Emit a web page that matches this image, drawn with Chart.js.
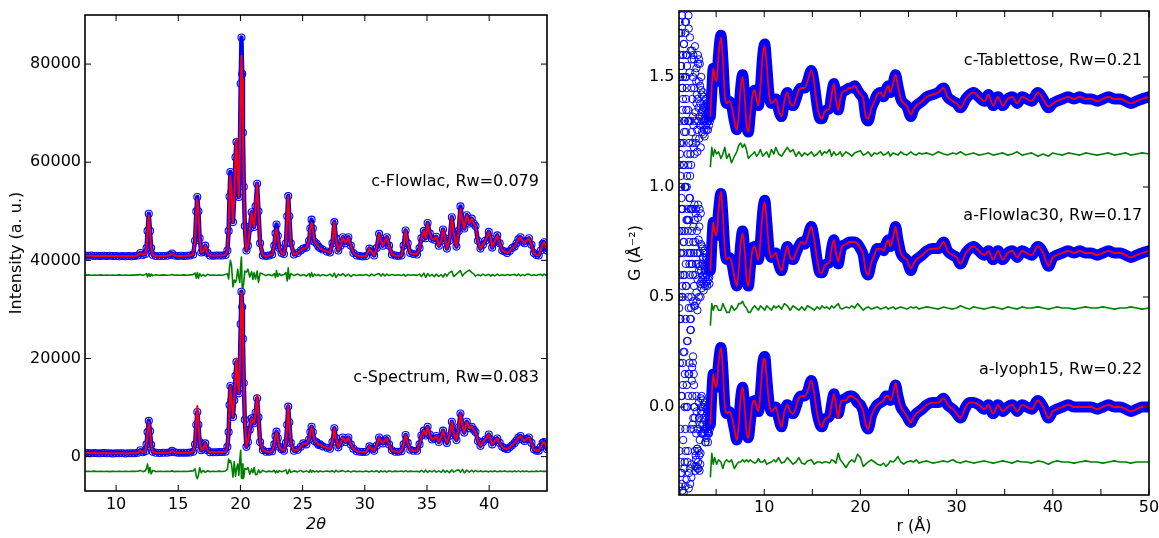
<!DOCTYPE html>
<html><head><meta charset="utf-8">
<script src="https://cdn.jsdelivr.net/npm/chart.js@4.4.0/dist/chart.umd.min.js"></script>
<style>
html,body{margin:0;padding:0;background:#fff;}
#wrap{position:relative;width:1159px;height:538px;overflow:hidden;background:#fff;}
canvas{position:absolute;top:0;}
#c1{left:0;} #c2{left:580px;}
</style></head><body>
<div id="wrap"><canvas id="c1" width="580" height="538"></canvas><canvas id="c2" width="579" height="538"></canvas></div>
<script>
// ---------------- Left panel: XRD (2theta) ----------------
const tth = [
7.5,7.75,8.0,8.25,8.5,8.75,9.0,9.25,9.5,9.75,
10.0,10.25,10.5,10.75,11.0,11.25,11.5,11.75,11.95,12.15,
12.35,12.45,12.53,12.63,12.73,12.82,12.95,13.2,13.5,13.8,
14.1,14.35,14.5,14.7,14.95,15.2,15.45,15.7,15.95,16.2,
16.35,16.45,16.53,16.62,16.72,16.85,17.0,17.17,17.35,17.55,
17.8,18.05,18.3,18.55,18.8,18.95,19.05,19.12,19.19,19.28,
19.4,19.5,19.6,19.68,19.78,19.87,19.95,20.02,20.08,20.14,
20.2,20.27,20.35,20.48,20.6,20.75,20.9,21.0,21.1,21.22,
21.34,21.45,21.58,21.8,22.05,22.3,22.55,22.72,22.82,22.9,
23.0,23.12,23.3,23.5,23.66,23.76,23.84,23.93,24.05,24.3,
24.6,24.85,25.05,25.3,25.52,25.62,25.72,25.82,25.95,26.13,
26.27,26.4,26.6,26.94,27.2,27.4,27.55,27.68,27.87,28.05,
28.23,28.45,28.68,28.88,29.08,29.35,29.6,29.85,30.1,30.37,
30.55,30.75,30.95,31.15,31.3,31.45,31.62,31.77,31.95,32.18,
32.45,32.7,32.95,33.12,33.28,33.45,33.65,33.9,34.2,34.4,
34.55,34.75,34.9,35.05,35.22,35.4,35.6,35.75,35.95,36.15,
36.29,36.45,36.6,36.8,37.0,37.15,37.37,37.55,37.69,37.85,
38.0,38.2,38.4,38.6,38.75,38.9,39.1,39.3,39.5,39.7,
39.97,40.12,40.24,40.45,40.65,40.85,41.05,41.25,41.45,41.65,
41.85,42.05,42.2,42.35,42.52,42.7,42.85,43.0,43.2,43.4,
43.6,43.8,43.98,44.15,44.3,44.42,44.55,44.65];

const flowlacObs = [
1000,950,1000,900,950,900,950,900,950,900,
900,850,900,850,900,850,900,1000,1500,1100,
1300,2500,6000,9500,6000,2500,1100,900,900,900,
950,1100,1400,1000,900,950,900,950,1000,1200,
4000,10000,12900,10000,4500,1600,1800,3000,1500,1000,
950,1000,1000,1000,1100,2000,6000,13000,18000,14000,
7800,13000,21000,24100,18000,12900,22000,36000,45400,38000,
26000,15000,7000,2000,3000,6500,9800,8000,6800,11000,
15600,10000,3500,1000,900,1000,1200,3000,5500,7300,
5000,2500,1500,1300,3500,9000,13100,9000,3500,1200,
1500,2000,2400,2600,4000,6500,8300,6500,3800,3400,
2800,2500,2200,1800,1600,3500,7800,4500,2000,3000,
4700,3500,4700,3000,1500,1000,900,800,900,2400,
1800,1000,2500,5400,4000,3000,4000,4700,3000,1200,
1000,900,1000,3000,6100,3500,1500,1300,1200,2500,
4500,6000,4500,7600,5500,4400,4200,4800,3000,4000,
6300,4500,2400,4000,8800,5500,2800,6000,11000,8000,
6500,9200,7500,8500,7500,7000,4000,2400,3200,4000,
5800,4500,2600,3800,5100,3500,2000,1800,1500,1900,
2500,2800,3500,4300,4700,3800,3500,4000,4500,3200,
1500,1100,1000,2000,3300,3700,2800,2000];

const flowlacCalc = [
1000,950,1000,900,950,900,950,900,950,900,
900,850,900,850,900,850,900,1000,1500,1100,
1300,2500,6000,9200,6000,2500,1100,900,900,900,
950,1100,1400,1000,900,950,900,950,1000,1200,
4000,10000,12500,10000,4500,1600,1800,3000,1500,1000,
950,1000,1000,1000,1100,2000,6000,13000,17300,14000,
7800,13000,21000,24800,18000,12900,22000,35000,41700,37000,
26000,15000,7000,2000,3000,6500,9800,8000,6800,11000,
15600,10000,3500,1000,900,1000,1200,3000,5500,6400,
5000,2500,1500,1300,3500,9000,13100,9000,3500,1200,
1500,2000,2400,2600,4000,6500,7600,6500,3800,3400,
2800,2500,2200,1800,1600,3500,7800,4500,2000,3000,
4700,3500,4700,3000,1500,1000,900,800,900,2400,
1800,1000,2500,5400,4000,3000,4000,4700,3000,1200,
1000,900,1000,3000,6100,3500,1500,1300,1200,2500,
4500,6000,4500,7600,5500,4400,4200,4800,3000,4000,
6300,4500,2400,4000,8800,5500,2800,6000,10500,8000,
6500,9200,7500,8500,7500,7000,4000,2400,3200,4000,
5800,4500,2600,3800,5100,3500,2000,1800,1500,1900,
2500,2800,3500,4300,4700,3800,3500,4000,4500,3200,
1500,1100,1000,2000,3300,3700,2800,2000];

const flowlacDiff = [
0,50,-50,30,-20,40,-30,20,-40,30,
-20,40,-30,20,-40,30,0,50,100,-50,
100,300,-400,300,-300,200,-100,50,-30,40,
-40,30,100,-50,20,-30,40,-20,50,100,
400,-600,500,-700,300,-200,100,-200,150,-50,
30,-40,20,-50,100,300,-800,1500,3000,2000,
-2400,-1000,-1500,-900,1200,-500,-1500,2000,3700,-2500,
-2800,-1500,800,600,1200,-400,700,-900,500,-800,
800,-1500,400,200,-100,100,-150,300,-500,900,
-300,300,-100,100,500,-1200,1500,-800,300,-100,
200,-150,100,-200,300,-400,500,-300,200,-100,
150,-200,100,-150,200,-300,400,-500,200,-100,
300,-200,200,-300,100,-100,50,-50,100,-200,
200,-100,150,300,-200,250,-150,200,-100,100,
-50,50,-100,150,-200,100,-50,80,-60,200,
-300,400,-500,300,-200,150,-300,200,-250,100,
-400,300,-200,500,800,-300,200,600,900,-200,
300,700,1000,500,300,-200,100,-150,200,-100,
150,-200,100,-150,200,-100,50,-80,100,-50,
80,150,-100,200,-150,100,-120,150,200,-100,
50,-80,100,150,-100,200,-50,0];

const spectrumObs = [
800,750,700,750,700,700,750,700,700,650,
700,700,700,650,700,700,700,800,1300,900,
1100,2500,5000,7300,5200,2400,1000,800,750,800,
800,900,1200,900,800,800,800,800,850,1000,
2500,6500,9100,6500,3000,1300,1600,2700,1300,900,
900,900,950,950,1000,2000,5000,10500,14400,11500,
8100,11500,16500,19300,15500,12900,18000,27000,33600,30500,
24000,15000,7500,2000,3000,5500,7800,7200,6800,9000,
11900,8000,3000,1350,1000,1000,1100,2500,4200,5100,
3800,2000,1500,1200,2800,6500,10200,7000,2800,1200,
1400,2000,2700,2500,3500,5000,6100,5000,3200,2900,
2400,2500,2100,1800,1600,3000,5800,3800,1900,2800,
3900,3000,3900,2500,1600,1100,1000,950,1000,2100,
1600,1200,2200,3900,3200,2700,3300,3700,2500,1300,
1000,1000,1100,2500,4400,2800,1400,1200,1200,2500,
4300,5300,4300,6100,4500,3500,3700,4200,3000,4000,
5300,3800,2800,4200,7100,4800,3400,6000,8800,6500,
4900,7100,5800,6100,5500,5000,3200,2200,3000,3500,
4500,3500,2500,3200,3700,2800,2000,1700,1500,1900,
2300,2800,3300,3900,4200,3500,3200,3600,3900,2800,
1500,1200,1200,2000,2800,3000,2300,1500];

const spectrumCalc = [
800,750,700,750,700,700,750,700,700,650,
700,700,700,650,700,700,700,800,1300,900,
1100,2500,5000,7000,5200,2400,1000,800,750,800,
800,900,1200,900,800,800,800,800,850,1000,
2500,7500,10300,7300,3000,1300,1600,2700,1300,900,
900,900,950,950,1000,2000,5000,10500,14400,11500,
8100,11500,16500,20000,15500,12900,18000,27000,33500,30500,
24000,15000,7500,2000,3000,5500,7800,7200,6800,9000,
12500,8000,3000,1350,1000,1000,1100,2500,4200,5100,
3800,2000,1500,1200,2800,6500,10500,7000,2800,1200,
1400,2000,2700,2500,3500,5000,6100,5000,3200,2900,
2400,2500,2100,1800,1600,3000,5800,3800,1900,2800,
3900,3000,3900,2500,1600,1100,1000,950,1000,2100,
1600,1200,2200,3900,3200,2700,3300,3700,2500,1300,
1000,1000,1100,2500,4400,2800,1400,1200,1200,2500,
4300,5300,4300,6100,4500,3500,3700,4200,3000,4000,
5300,3800,2800,4200,7100,4800,3400,6000,8800,6500,
4900,7100,5800,6100,5500,5000,3200,2200,3000,3500,
4500,3500,2500,3200,3700,2800,2000,1700,1500,1900,
2300,2800,3300,3900,4200,3500,3200,3600,3900,2800,
1500,1200,1200,2000,2800,3000,2300,1500];

const spectrumDiff = [
0,40,-30,50,-40,20,-20,30,-50,20,
-30,40,-20,30,-40,20,0,40,200,-50,
100,600,1500,-300,800,-500,200,-50,30,-40,
40,-30,100,-50,30,-20,40,-30,50,100,
500,-1000,-1500,-800,800,-300,200,-200,100,-50,
40,-30,50,-40,80,400,2500,1800,2200,1500,
-1200,2000,-1000,500,1500,-800,2500,4300,-1400,1500,
-1500,-1200,600,400,800,-600,500,-300,800,-700,
-600,300,-300,200,-100,50,-80,200,-300,100,
-200,150,-80,100,300,-500,-300,400,-200,100,
-100,200,-150,100,-200,300,-200,150,-100,80,
-120,100,-80,60,-50,100,-150,200,-100,50,
150,-100,100,-150,80,-50,40,-60,80,-100,
100,-80,120,-200,150,-100,80,-150,120,-80,
50,-40,60,-100,150,-80,50,-40,30,-100,
200,-150,250,-200,150,-100,200,-150,100,-200,
300,-200,150,-250,300,-150,200,300,-200,400,
-300,250,-150,200,-100,150,-80,100,-60,80,
-100,80,-60,100,-80,50,-40,60,-50,40,
-50,80,-60,100,-80,60,-50,80,-60,40,
-40,50,-30,60,-40,50,-30,0];

const xrdOffsets = { flowlac: 40000, flowlacDiff: 37000, spectrum: 0, spectrumDiff: -3000 };
const xrdXTicks = [10, 15, 20, 25, 30, 35, 40];
const xrdYTicks = [0, 20000, 40000, 60000, 80000];
const xrdLabels = ['c-Flowlac, Rw=0.079', 'c-Spectrum, Rw=0.083'];

// ---------------- Right panel: PDF G(r) ----------------
const lowR = [
1.15,1.175,1.2,1.225,1.25,1.275,1.3,1.325,1.35,1.375,
1.4,1.425,1.45,1.475,1.5,1.525,1.55,1.575,1.6,1.625,
1.65,1.675,1.7,1.725,1.75,1.775,1.8,1.825,1.85,1.875,
1.9,1.925,1.95,1.975,2.0,2.025,2.05,2.075,2.1,2.125,
2.15,2.175,2.2,2.225,2.25,2.275,2.3,2.325,2.35,2.375,
2.4,2.425,2.45,2.475,2.5,2.525,2.55,2.575,2.6,2.625,
2.65,2.675,2.7,2.725,2.75,2.775,2.8,2.825,2.85,2.875,
2.9,2.925,2.95,2.975,3.0,3.025,3.05,3.075,3.1,3.125,
3.15,3.175,3.2,3.225,3.25,3.275,3.3,3.325,3.35,3.375,
3.4,3.425,3.45,3.475,3.5,3.525,3.55,3.575,3.6,3.625,
3.65,3.675,3.7,3.725,3.75,3.775,3.8,3.825,3.85,3.875,
3.9,3.925,3.95,3.975,4.0,4.025,4.05,4.075,4.1,4.125,
4.15,4.175,4.2,4.225,4.25,4.275,4.3,4.325,4.35];
const tablettoseLow = [
-0.95,-0.6,0.35,0.1,-0.2,-0.8,-0.7,-0.35,0.15,0.3,
-0.45,-0.9,0.38,0.05,-0.85,-0.5,0.0,0.2,-0.3,-0.65,
0.25,-0.15,-0.6,-0.8,-0.1,0.35,0.3,-0.4,-0.75,0.0,
0.1,-0.55,-0.4,0.15,0.2,-0.25,-0.55,-0.7,-0.05,0.38,
0.32,-0.2,-0.65,-0.45,0.12,0.28,-0.35,-0.1,0.22,-0.5,
-0.3,0.05,0.18,-0.15,0.22,0.0,-0.2,-0.08,0.1,0.2,
-0.12,-0.22,0.18,0.05,-0.25,-0.1,0.24,0.12,-0.06,-0.18,
-0.2,0.08,0.14,-0.02,0.02,-0.14,-0.24,0.0,0.2,0.16,
-0.1,-0.04,0.08,0.18,-0.18,-0.08,0.16,0.06,-0.02,-0.12,
-0.22,0.04,0.1,-0.06,0.02,-0.08,-0.15,-0.1,-0.05,0.03,
-0.16,-0.12,0.01,-0.04,-0.1,-0.14,-0.17,-0.07,-0.03,-0.01,
-0.12,-0.09,0.0,-0.05,-0.14,-0.11,-0.07,-0.02,-0.03,-0.09,
-0.14,-0.1,-0.06,-0.03,-0.12,-0.08,-0.02,-0.05,-0.1];
const flowlac30Low = [
1.0,0.6,-0.9,-0.5,0.45,0.9,-0.3,-1.0,0.85,0.3,
-1.05,-0.65,0.2,0.75,0.65,-0.2,-0.6,-0.85,0.0,0.5,
0.95,0.4,-0.45,-0.95,0.3,0.8,-0.8,-0.3,0.55,1.05,
-0.15,-0.7,0.75,0.35,-0.7,-0.4,0.1,0.6,0.4,-0.55,
-0.25,0.15,0.6,-0.5,-0.1,0.25,-0.3,0.45,0.2,-0.35,
0.0,-0.2,-0.05,0.1,-0.05,0.2,0.2,-0.1,-0.22,0.05,
0.12,0.0,-0.15,-0.24,0.22,0.15,-0.24,-0.1,0.05,0.18,
0.2,-0.05,-0.18,-0.22,0.1,0.0,-0.26,-0.12,0.16,0.22,
-0.05,0.06,-0.2,-0.08,0.12,0.2,0.0,-0.06,-0.14,-0.2,
0.18,0.04,-0.08,-0.13,-0.16,0.03,0.02,-0.05,-0.12,-0.02,
-0.02,-0.1,-0.17,-0.14,-0.06,0.01,0.0,-0.08,-0.15,-0.11,
-0.08,-0.03,-0.13,-0.06,-0.02,-0.1,-0.1,-0.15,-0.13,-0.05,
-0.04,-0.08,-0.12,-0.02,-0.08,-0.11,-0.14,-0.09,-0.06];
const lyoph15Low = [
-0.36,0.5,1.7,1.1,0.4,-0.1,-0.25,0.7,1.2,0.9,
0.05,-0.3,0.8,1.45,-0.38,0.2,1.5,0.6,0.25,-0.39,
0.75,1.3,-0.28,0.0,0.15,1.0,-0.36,-0.2,0.55,1.6,
1.35,-0.33,0.1,0.3,0.85,-0.25,0.9,-0.2,0.05,0.5,
-0.37,-0.3,0.15,0.65,0.7,-0.28,-0.35,0.35,-0.1,0.4,
0.45,-0.32,-0.26,0.12,0.18,0.05,-0.08,0.2,0.23,-0.05,
-0.1,0.15,0.1,0.0,0.0,-0.05,-0.2,-0.27,-0.29,-0.22,
-0.24,-0.12,0.05,-0.02,-0.27,-0.19,-0.19,-0.28,-0.1,-0.25,
-0.28,-0.2,0.02,-0.05,-0.22,-0.29,-0.15,-0.08,-0.26,-0.21,
0.04,-0.02,-0.12,0.0,0.05,-0.03,-0.08,-0.12,-0.12,0.03,
0.0,-0.08,-0.05,-0.12,-0.1,0.01,0.02,-0.06,-0.12,-0.16,
-0.16,-0.1,-0.04,-0.01,-0.14,-0.09,-0.08,-0.03,0.0,-0.12,
-0.16,-0.11,-0.06,-0.12,-0.12,-0.07,-0.03,-0.08,-0.1];

const rGrid = [
4.4,4.55,4.7,4.85,5.05,5.25,5.5,5.7,5.9,6.1,
6.35,6.6,6.9,7.15,7.35,7.55,7.75,7.95,8.15,8.35,
8.55,8.8,9.0,9.2,9.4,9.6,9.85,10.05,10.25,10.5,
10.75,11.0,11.2,11.5,11.8,12.1,12.4,12.7,13.0,13.3,
13.6,13.9,14.2,14.5,14.9,15.2,15.5,15.8,16.0,16.25,
16.5,16.8,17.0,17.25,17.45,17.7,17.9,18.1,18.5,18.85,
19.1,19.4,19.7,20.0,20.3,20.55,20.8,21.15,21.45,21.75,
22.1,22.4,22.65,22.9,23.1,23.4,23.65,23.9,24.2,24.5,
24.8,25.25,25.5,25.8,26.1,26.4,26.9,27.5,28.1,28.65,
29.05,29.6,30.0,30.4,30.95,31.35,31.75,32.3,32.9,33.3,
33.8,34.3,34.8,35.3,35.8,36.3,36.8,37.3,37.8,38.45,
39.0,39.55,40.0,40.4,41.0,41.6,42.2,42.8,43.4,44.0,
44.6,45.2,45.8,46.4,47.0,47.6,48.1,48.7,49.3,50.0];

const tablettoseObs = [
-0.08,0.03,0.14,0.10,0.08,0.20,0.29,0.18,0.02,-0.02,
-0.01,-0.03,-0.10,-0.14,-0.07,0.05,0.11,0.02,-0.11,-0.15,
-0.07,0.02,0.04,0.00,-0.03,0.05,0.20,0.25,0.16,0.02,
-0.02,-0.01,0.00,-0.05,-0.08,-0.01,0.03,-0.02,-0.03,0.00,
0.04,0.05,0.05,0.08,0.13,0.07,-0.03,-0.09,-0.09,-0.06,
-0.05,-0.04,0.02,0.07,0.00,-0.05,0.00,0.03,0.04,0.05,
0.05,0.06,0.04,0.02,0.00,-0.08,-0.10,-0.04,-0.01,0.02,
0.03,0.01,0.04,0.06,0.03,0.07,0.11,0.06,0.00,-0.02,
-0.03,-0.08,-0.05,-0.03,-0.02,-0.01,0.01,0.02,0.03,0.05,
0.01,-0.01,-0.02,-0.04,0.00,0.02,0.03,0.01,-0.01,0.02,
-0.03,0.01,-0.03,0.00,0.01,-0.02,0.01,0.00,-0.01,0.03,
0.00,-0.04,-0.02,-0.01,0.00,0.01,0.00,0.01,0.00,0.00,
-0.01,0.00,0.01,0.00,0.00,-0.01,-0.02,-0.01,0.00,0.01];
const tablettoseCalc = [
-0.08,0.06,0.14,0.10,0.08,0.20,0.28,0.18,0.02,-0.02,
-0.01,-0.03,-0.10,-0.14,-0.07,0.05,0.10,0.02,-0.11,-0.15,
-0.07,0.02,0.04,0.00,-0.03,0.05,0.20,0.24,0.16,0.02,
-0.02,-0.01,0.00,-0.05,-0.08,-0.01,0.03,-0.02,-0.03,0.00,
0.04,0.05,0.05,0.08,0.13,0.07,-0.03,-0.08,-0.09,-0.06,
-0.05,-0.04,0.02,0.07,0.00,-0.05,0.00,0.03,0.04,0.05,
0.05,0.06,0.04,0.02,0.00,-0.08,-0.09,-0.04,-0.01,0.02,
0.03,0.01,0.04,0.06,0.03,0.07,0.11,0.06,0.00,-0.02,
-0.03,-0.07,-0.05,-0.03,-0.02,-0.01,0.01,0.02,0.03,0.05,
0.01,-0.01,-0.02,-0.04,0.00,0.02,0.03,0.01,-0.01,0.02,
-0.03,0.01,-0.03,0.00,0.01,-0.02,0.01,0.00,-0.01,0.03,
0.00,-0.035,-0.02,-0.01,0.00,0.01,0.00,0.01,0.00,0.00,
-0.01,0.00,0.01,0.00,0.00,-0.01,-0.02,-0.01,0.00,0.01];
const tablettoseDiff = [
-0.06,0.03,-0.01,0.02,0.00,0.01,-0.02,0.00,0.03,-0.02,
0.00,-0.04,-0.01,0.01,0.04,0.05,0.03,0.045,0.02,-0.02,
-0.01,0.00,0.01,-0.01,0.00,0.02,-0.01,0.00,0.01,-0.015,
0.02,0.00,0.03,0.00,-0.01,0.01,0.03,0.01,0.02,-0.01,
0.01,-0.01,0.005,-0.005,0.01,-0.01,0.00,0.015,-0.005,0.01,
0.005,0.02,-0.01,0.01,-0.005,0.00,0.01,-0.01,0.01,0.00,
-0.01,0.005,0.01,0.015,-0.005,0.00,0.01,-0.01,0.005,0.00,
0.01,-0.005,0.00,0.01,-0.01,0.005,0.00,-0.005,0.01,0.00,
-0.005,0.01,0.00,-0.005,0.005,0.00,0.005,-0.005,0.01,0.00,
-0.005,0.005,0.00,0.01,-0.005,0.00,0.005,-0.005,0.00,0.005,
-0.005,0.00,0.005,-0.005,0.00,0.01,-0.005,0.00,0.005,-0.01,
0.00,-0.01,0.005,0.00,-0.005,0.005,0.00,-0.005,0.005,0.00,
-0.005,0.00,0.005,-0.005,0.00,0.005,-0.005,0.00,0.005,0.00];

const flowlac30Obs = [
-0.08,0.04,0.14,0.10,0.08,0.19,0.27,0.17,0.02,-0.03,
-0.02,-0.04,-0.11,-0.15,-0.08,0.04,0.10,0.02,-0.11,-0.15,
-0.07,0.02,0.03,0.00,-0.03,0.05,0.19,0.24,0.15,0.02,
-0.02,-0.01,0.00,-0.05,-0.08,-0.02,0.03,-0.02,-0.03,0.00,
0.03,0.05,0.04,0.07,0.12,0.06,-0.03,-0.09,-0.09,-0.06,
-0.05,-0.04,0.02,0.06,0.00,-0.05,0.00,0.03,0.04,0.05,
0.05,0.05,0.04,0.02,-0.01,-0.08,-0.10,-0.04,-0.01,0.02,
0.02,0.01,0.04,0.06,0.03,0.07,0.12,0.06,0.00,-0.02,
-0.03,-0.08,-0.05,-0.03,-0.02,-0.01,0.01,0.02,0.02,0.05,
0.01,-0.01,-0.02,-0.05,0.00,0.02,0.03,0.01,-0.01,0.01,
-0.03,0.01,-0.03,0.00,0.01,-0.02,0.01,0.00,-0.01,0.03,
0.00,-0.06,-0.02,-0.01,0.00,0.01,0.00,0.01,0.00,0.00,
-0.01,0.00,0.01,0.00,0.00,-0.01,-0.02,-0.01,0.00,0.01];
const flowlac30Calc = [
-0.08,0.06,0.14,0.10,0.08,0.19,0.28,0.17,0.02,-0.03,
-0.02,-0.04,-0.11,-0.15,-0.08,0.04,0.09,0.02,-0.11,-0.15,
-0.07,0.02,0.03,0.00,-0.03,0.05,0.19,0.23,0.15,0.02,
-0.02,-0.01,0.00,-0.05,-0.08,-0.02,0.03,-0.02,-0.03,0.00,
0.03,0.05,0.04,0.07,0.12,0.06,-0.03,-0.09,-0.09,-0.06,
-0.05,-0.04,0.02,0.06,0.00,-0.04,0.00,0.03,0.04,0.05,
0.05,0.05,0.04,0.02,-0.01,-0.08,-0.10,-0.04,-0.01,0.02,
0.02,0.01,0.04,0.06,0.03,0.07,0.12,0.06,0.00,-0.02,
-0.03,-0.07,-0.05,-0.03,-0.02,-0.01,0.01,0.02,0.02,0.05,
0.01,-0.01,-0.02,-0.05,0.00,0.02,0.03,0.01,-0.01,0.01,
-0.03,0.01,-0.03,0.00,0.01,-0.02,0.01,0.00,-0.01,0.03,
0.00,-0.06,-0.02,-0.01,0.00,0.01,0.00,0.01,0.00,0.00,
-0.01,0.00,0.01,0.00,0.00,-0.01,-0.02,-0.01,0.00,0.01];
const flowlac30Diff = [
-0.08,0.02,-0.01,0.01,0.01,-0.01,-0.01,0.02,0.00,-0.02,
-0.02,0.01,-0.01,0.00,0.02,0.02,0.03,0.01,0.00,-0.02,
-0.02,0.00,0.01,0.00,-0.01,0.01,0.00,-0.01,0.01,0.00,
-0.01,0.01,0.00,0.01,-0.005,0.02,0.01,-0.01,0.01,0.00,
-0.01,0.005,-0.01,0.01,0.00,-0.01,0.005,-0.005,0.01,0.00,
0.005,-0.005,0.01,0.00,0.01,0.02,0.00,-0.005,0.005,0.00,
0.01,0.00,0.02,0.005,-0.01,0.00,0.005,-0.005,0.00,0.005,
-0.005,0.00,0.005,-0.005,0.00,0.005,-0.005,0.00,0.005,0.00,
-0.005,0.005,0.00,0.005,-0.005,0.00,0.005,0.00,-0.005,0.005,
0.00,-0.005,0.00,0.01,0.00,-0.005,0.005,0.00,-0.005,0.00,
0.005,0.00,-0.005,0.005,0.00,-0.005,0.005,0.00,0.00,0.005,
0.00,-0.005,0.00,0.005,0.00,0.00,-0.005,0.00,0.005,0.00,
0.00,0.005,0.00,-0.005,0.00,0.00,0.005,0.00,-0.005,0.00];

const lyoph15Obs = [
-0.08,0.06,0.15,0.11,0.09,0.20,0.27,0.17,0.01,-0.03,
-0.02,-0.04,-0.10,-0.15,-0.08,0.04,0.09,0.01,-0.11,-0.14,
-0.07,0.02,0.03,0.00,-0.02,0.06,0.20,0.23,0.14,0.02,
-0.02,-0.01,0.00,-0.05,-0.09,-0.02,0.01,-0.02,-0.03,0.00,
0.04,0.05,0.05,0.07,0.12,0.06,-0.03,-0.08,-0.09,-0.06,
-0.05,-0.04,0.01,0.06,0.01,-0.03,0.01,0.03,0.04,0.05,
0.05,0.04,0.02,0.01,-0.02,-0.08,-0.10,-0.04,-0.01,0.01,
0.02,0.03,0.05,0.05,0.03,0.06,0.10,0.05,0.00,-0.02,
-0.04,-0.07,-0.05,-0.03,-0.02,-0.01,0.01,0.02,0.02,0.04,
0.01,-0.01,-0.03,-0.05,0.00,0.02,0.02,0.01,-0.01,0.01,
-0.03,0.01,-0.02,0.00,0.01,-0.02,0.01,0.00,-0.01,0.03,
0.00,-0.05,-0.02,-0.01,0.00,0.01,0.00,0.00,0.00,0.00,
-0.01,0.00,0.01,0.00,0.00,-0.01,-0.02,-0.01,0.00,0.00];
const lyoph15Calc = [
-0.08,0.05,0.15,0.11,0.09,0.20,0.27,0.17,0.01,-0.03,
-0.02,-0.04,-0.10,-0.15,-0.08,0.04,0.09,0.01,-0.11,-0.14,
-0.07,0.02,0.03,0.00,-0.02,0.06,0.20,0.22,0.14,0.02,
-0.02,-0.01,0.00,-0.05,-0.09,-0.02,0.01,-0.02,-0.03,0.00,
0.04,0.05,0.05,0.07,0.12,0.06,-0.03,-0.08,-0.09,-0.06,
-0.05,-0.04,0.01,0.06,0.01,-0.05,0.01,0.03,0.03,0.05,
0.05,0.04,0.03,0.01,-0.02,-0.08,-0.10,-0.04,-0.01,0.01,
0.02,0.03,0.05,0.05,0.03,0.06,0.11,0.05,0.00,-0.02,
-0.04,-0.07,-0.05,-0.03,-0.02,-0.01,0.01,0.02,0.02,0.04,
0.01,-0.01,-0.03,-0.05,0.00,0.02,0.02,0.01,-0.01,0.01,
-0.03,0.01,-0.02,0.00,0.01,-0.02,0.01,0.00,-0.01,0.03,
0.00,-0.05,-0.02,-0.01,0.00,0.01,0.00,0.00,0.00,0.00,
-0.01,0.00,0.01,0.00,0.00,-0.01,-0.02,-0.01,0.00,0.00];
const lyoph15Diff = [
-0.07,0.04,-0.01,0.02,-0.01,0.01,0.00,-0.03,0.00,0.01,
0.00,0.01,-0.03,-0.01,0.00,0.00,0.01,0.00,0.01,0.00,
0.01,0.00,-0.005,0.00,0.015,0.00,0.00,0.01,-0.01,-0.005,
0.00,0.01,0.00,0.02,-0.005,0.00,0.02,0.005,-0.01,0.00,
0.02,-0.005,-0.01,0.005,0.01,-0.01,0.00,0.00,-0.005,0.00,
0.00,-0.005,0.01,0.005,-0.005,0.04,0.01,0.00,-0.025,0.00,
0.01,0.00,0.035,0.02,-0.02,-0.01,0.00,0.01,0.00,-0.01,
-0.015,-0.005,-0.02,-0.01,0.005,0.00,0.01,0.025,0.00,-0.01,
0.00,0.005,0.00,0.01,-0.005,0.00,0.005,-0.005,0.00,0.005,
0.00,0.01,0.00,-0.005,0.005,0.00,-0.005,0.00,0.005,0.00,
-0.005,0.00,0.005,0.00,-0.005,0.005,0.00,0.00,-0.005,0.005,
0.00,-0.01,0.00,0.005,0.00,0.00,-0.005,0.00,0.005,0.00,
0.00,-0.005,0.00,0.005,0.00,0.00,-0.005,0.00,0.00,0.00];

const pdfOffsets = { tablettose: 1.4, flowlac30: 0.7, lyoph15: 0.0 };
const pdfDiffOffsets = { tablettose: 1.15, flowlac30: 0.45, lyoph15: -0.25 };
const pdfXTicks = [5, 10, 15, 20, 25, 30, 35, 40, 45, 50];
const pdfYTicks = [0.0, 0.5, 1.0, 1.5];
const pdfLabels = ['c-Tablettose, Rw=0.21', 'a-Flowlac30, Rw=0.17', 'a-lyoph15, Rw=0.22'];

// ---------------- Rendering ----------------
const BLUE = '#0000ff', RED = '#ff0000', GREEN = '#008000';
const FONT = "'DejaVu Sans', 'Liberation Sans', sans-serif";
Chart.defaults.font.family = FONT;
Chart.defaults.color = '#000';

function pts(xs, ys, off) { return xs.map((x, i) => ({ x: x, y: ys[i] + off })); }
function setTicks(vals) { return function (scale) { scale.ticks = vals.map(v => ({ value: v })); }; }

// frame, inward ticks, tick labels and in-plot annotations
function makeFrame(cfg) {
  return {
    id: 'frame',
    afterDatasetsDraw(chart) {
      const ctx = chart.ctx, a = chart.chartArea, xs = chart.scales.x, ys = chart.scales.y;
      ctx.save();
      ctx.strokeStyle = '#000';
      ctx.lineWidth = 1;
      const L = 6;
      ctx.beginPath();
      xs.ticks.forEach(t => {
        const p = xs.getPixelForValue(t.value);
        ctx.moveTo(p, a.bottom); ctx.lineTo(p, a.bottom - L);
        ctx.moveTo(p, a.top); ctx.lineTo(p, a.top + L);
      });
      ys.ticks.forEach(t => {
        const p = ys.getPixelForValue(t.value);
        ctx.moveTo(a.left, p); ctx.lineTo(a.left + L, p);
        ctx.moveTo(a.right, p); ctx.lineTo(a.right - L, p);
      });
      ctx.stroke();
      ctx.lineWidth = 1.6;
      ctx.strokeRect(a.left, a.top, a.right - a.left, a.bottom - a.top);
      ctx.fillStyle = '#000';
      ctx.font = '16px ' + FONT;
      ctx.textBaseline = 'middle';
      ctx.textAlign = 'center';
      xs.ticks.forEach(t => {
        const s = cfg.xFmt(t.value);
        if (s) ctx.fillText(s, xs.getPixelForValue(t.value), a.bottom + cfg.xOff);
      });
      ctx.textAlign = 'right';
      ys.ticks.forEach(t => ctx.fillText(cfg.yFmt(t.value), a.left - cfg.yGap, ys.getPixelForValue(t.value)));
      cfg.labels.forEach(l => ctx.fillText(l.text, xs.getPixelForValue(l.x), ys.getPixelForValue(l.y)));
      ctx.restore();
    }
  };
}

function obsXrd(label, ys, off) {
  return { label, data: pts(tth, ys, off), borderColor: BLUE, borderWidth: 4.5,
    borderJoinStyle: 'round', borderCapStyle: 'round', pointRadius: 3.5,
    pointBorderColor: BLUE, pointBackgroundColor: 'rgba(0,0,0,0)', pointBorderWidth: 1.1, order: 2, clip: 0 };
}
function lineDs(label, xs, ys, off, color, width, order, extra) {
  return Object.assign({ label, data: pts(xs, ys, off), borderColor: color, borderWidth: width,
    borderJoinStyle: 'round', pointRadius: 0, order, clip: 0, fill: false }, extra || {});
}

new Chart(document.getElementById('c1'), {
  type: 'line',
  data: { datasets: [
    obsXrd('c-Flowlac obs', flowlacObs, xrdOffsets.flowlac),
    lineDs('c-Flowlac calc', tth, flowlacCalc, xrdOffsets.flowlac, RED, 2, 0),
    lineDs('c-Flowlac diff', tth, flowlacDiff, xrdOffsets.flowlacDiff, GREEN, 1.6, 1),
    obsXrd('c-Spectrum obs', spectrumObs, xrdOffsets.spectrum),
    lineDs('c-Spectrum calc', tth, spectrumCalc, xrdOffsets.spectrum, RED, 2, 0),
    lineDs('c-Spectrum diff', tth, spectrumDiff, xrdOffsets.spectrumDiff, GREEN, 1.6, 1)
  ]},
  options: {
    responsive: false, animation: false, devicePixelRatio: 1, events: [],
    layout: { padding: { left: 0, right: 33, top: 15, bottom: 0 } },
    plugins: { legend: { display: false }, tooltip: { enabled: false } },
    scales: {
      x: { type: 'linear', min: 7.5, max: 44.65,
        afterFit: s => { s.height = 47; }, afterBuildTicks: setTicks(xrdXTicks),
        grid: { display: false, drawTicks: false }, border: { display: false },
        ticks: { display: false },
        title: { display: true, text: '2θ', font: { size: 16, style: 'italic' }, padding: { top: 0, bottom: 3.4 } } },
      y: { type: 'linear', min: -7000, max: 90000,
        afterFit: s => { s.width = 85; }, afterBuildTicks: setTicks(xrdYTicks),
        grid: { display: false, drawTicks: false }, border: { display: false },
        ticks: { display: false },
        title: { display: true, text: 'Intensity (a. u.)', font: { size: 16 }, padding: { top: 7.4, bottom: 0 } } }
    }
  },
  plugins: [makeFrame({
    xFmt: v => String(v), yFmt: v => String(v), xOff: 14, yGap: 4,
    labels: [ { text: xrdLabels[0], x: 44.0, y: 56000 }, { text: xrdLabels[1], x: 44.0, y: 16000 } ]
  })]
});

function obsPdf(label, low, ys, off) {
  const data = pts(lowR, low, off).concat(pts(rGrid, ys, off));
  return { label, data, borderColor: BLUE, borderWidth: 11, borderCapStyle: 'round', borderJoinStyle: 'round',
    cubicInterpolationMode: 'monotone',
    segment: { borderColor: c => (c.p1.parsed.x <= 4.4 ? 'rgba(0,0,0,0)' : undefined) },
    pointRadius: c => (c.raw && c.raw.x < 4.4 ? 3.7 : 0),
    pointBorderColor: BLUE, pointBackgroundColor: 'rgba(0,0,0,0)', pointBorderWidth: 1, order: 2, clip: 0 };
}

new Chart(document.getElementById('c2'), {
  type: 'line',
  data: { datasets: [
    obsPdf('c-Tablettose obs', tablettoseLow, tablettoseObs, pdfOffsets.tablettose),
    lineDs('c-Tablettose calc', rGrid, tablettoseCalc, pdfOffsets.tablettose, RED, 1.8, 0, { cubicInterpolationMode: 'monotone' }),
    lineDs('c-Tablettose diff', rGrid, tablettoseDiff, pdfDiffOffsets.tablettose, GREEN, 1.6, 1),
    obsPdf('a-Flowlac30 obs', flowlac30Low, flowlac30Obs, pdfOffsets.flowlac30),
    lineDs('a-Flowlac30 calc', rGrid, flowlac30Calc, pdfOffsets.flowlac30, RED, 1.8, 0, { cubicInterpolationMode: 'monotone' }),
    lineDs('a-Flowlac30 diff', rGrid, flowlac30Diff, pdfDiffOffsets.flowlac30, GREEN, 1.6, 1),
    obsPdf('a-lyoph15 obs', lyoph15Low, lyoph15Obs, pdfOffsets.lyoph15),
    lineDs('a-lyoph15 calc', rGrid, lyoph15Calc, pdfOffsets.lyoph15, RED, 1.8, 0, { cubicInterpolationMode: 'monotone' }),
    lineDs('a-lyoph15 diff', rGrid, lyoph15Diff, pdfDiffOffsets.lyoph15, GREEN, 1.6, 1)
  ]},
  options: {
    responsive: false, animation: false, devicePixelRatio: 1, events: [],
    layout: { padding: { left: 0, right: 10, top: 11, bottom: 0 } },
    plugins: { legend: { display: false }, tooltip: { enabled: false } },
    scales: {
      x: { type: 'linear', min: 1.14, max: 50,
        afterFit: s => { s.height = 43; }, afterBuildTicks: setTicks(pdfXTicks),
        grid: { display: false, drawTicks: false }, border: { display: false },
        ticks: { display: false },
        title: { display: true, text: 'r (Å)', font: { size: 16 }, padding: { top: 0, bottom: 1.4 } } },
      y: { type: 'linear', min: -0.4, max: 1.8,
        afterFit: s => { s.width = 99; }, afterBuildTicks: setTicks(pdfYTicks),
        grid: { display: false, drawTicks: false }, border: { display: false },
        ticks: { display: false },
        title: { display: true, text: 'G (Å⁻²)', font: { size: 16 }, padding: { top: 45.9, bottom: 0 } } }
    }
  },
  plugins: [makeFrame({
    xFmt: v => (v % 10 === 0 ? String(v) : ''), yFmt: v => v.toFixed(1), xOff: 13, yGap: 4.5,
    labels: [ { text: pdfLabels[0], x: 49.3, y: 1.573 }, { text: pdfLabels[1], x: 49.3, y: 0.868 }, { text: pdfLabels[2], x: 49.3, y: 0.168 } ]
  })]
});
</script></body></html>
